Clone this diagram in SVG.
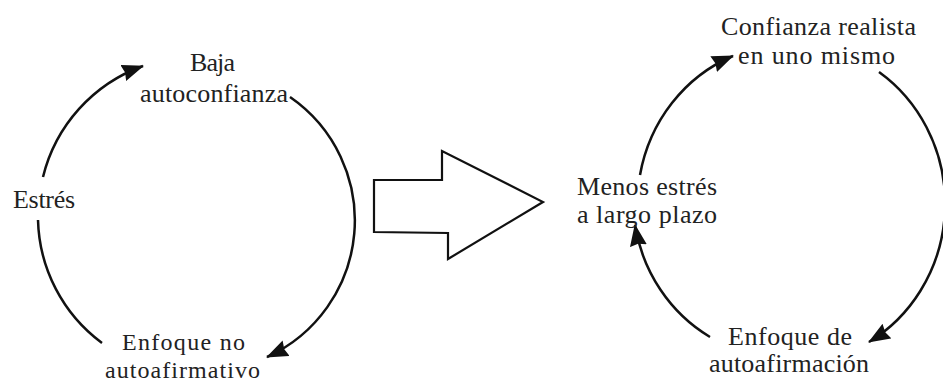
<svg xmlns="http://www.w3.org/2000/svg" width="943" height="383" viewBox="0 0 943 383">
<style>
text{font-family:"Liberation Serif","Times New Roman",serif;font-size:26px;fill:#222;}
.sm{font-size:24px;}
.c{fill:none;stroke:#111;stroke-width:2.5;}
.big{fill:#fff;stroke:#111;stroke-width:2.2;stroke-linejoin:miter;}
</style>
<defs>
<marker id="ah" markerUnits="userSpaceOnUse" markerWidth="26" markerHeight="20" refX="21" refY="8.5" orient="auto">
<path d="M0,0 L22,8.5 L0,17 L2,8.5 z" fill="#111"/>
</marker>
</defs>
<rect width="943" height="383" fill="#fff"/>
<g id="connectors">
<path class="c" d="M43,177 A158,158 0 0 1 143,66" marker-end="url(#ah)"/>
<path class="c" d="M290,97 A150,150 0 0 1 267,357" marker-end="url(#ah)"/>
<path class="c" d="M102,343 A158,158 0 0 1 38,220"/>
<path class="c" d="M640,175 A153,160 0 0 1 733,56" marker-end="url(#ah)"/>
<path class="c" d="M879,72 A153,160 0 0 1 869,342" marker-end="url(#ah)"/>
<path class="c" d="M710,337 A153,160 0 0 1 635,225" marker-end="url(#ah)"/>
</g>
<g id="big-arrow">
<polygon class="big" points="374,180 442,180 442,151 543,202 448,259 448,233 374,232"/>
</g>
<g id="node-baja">
<text x="190" y="71" textLength="45" lengthAdjust="spacing">Baja</text>
<text x="140" y="102" textLength="148" lengthAdjust="spacing">autoconfianza</text>
</g>
<g id="node-estres">
<text x="13" y="208" textLength="62" lengthAdjust="spacing">Estrés</text>
</g>
<g id="node-enfoque-no">
<text class="sm" x="122" y="350" textLength="123" lengthAdjust="spacing">Enfoque no</text>
<text class="sm" x="105" y="378" textLength="155" lengthAdjust="spacing">autoafirmativo</text>
</g>
<g id="node-confianza">
<text x="721" y="35" textLength="195" lengthAdjust="spacing">Confianza realista</text>
<text x="738" y="64" textLength="157" lengthAdjust="spacing">en uno mismo</text>
</g>
<g id="node-menos-estres">
<text x="577" y="195" textLength="140" lengthAdjust="spacing">Menos estrés</text>
<text x="577" y="223" textLength="140" lengthAdjust="spacing">a largo plazo</text>
</g>
<g id="node-enfoque-de">
<text x="728" y="345" textLength="124" lengthAdjust="spacing">Enfoque de</text>
<text x="709" y="372" textLength="160" lengthAdjust="spacing">autoafirmación</text>
</g>
</svg>
